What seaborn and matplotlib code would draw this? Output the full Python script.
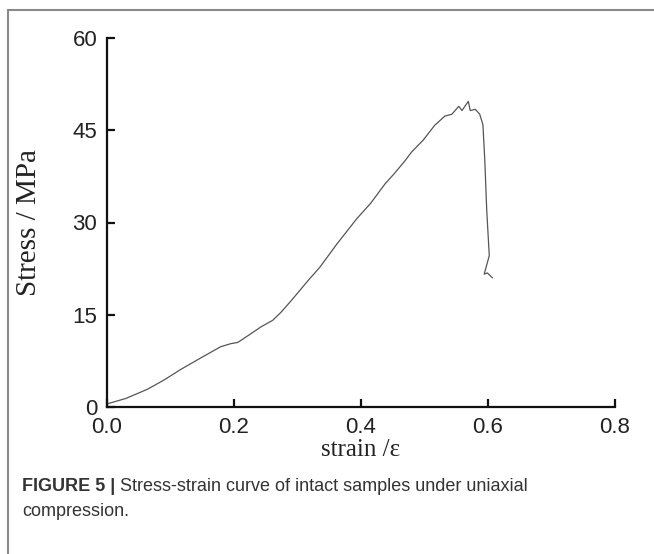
import matplotlib
matplotlib.use("Agg")
import matplotlib.pyplot as plt
import seaborn as sns
import pandas as pd
from matplotlib.lines import Line2D

strain = [0.0, 0.03, 0.064, 0.09, 0.116, 0.148, 0.179, 0.195, 0.206, 0.225, 0.242,
          0.261, 0.274, 0.291, 0.317, 0.335, 0.362, 0.394, 0.415, 0.438, 0.452,
          0.469, 0.48, 0.498, 0.516, 0.532, 0.543, 0.554, 0.559, 0.569, 0.572,
          0.58, 0.587, 0.592, 0.595, 0.598, 0.602, 0.594, 0.599, 0.607]
stress = [0.5, 1.4, 2.9, 4.4, 6.1, 8.0, 9.8, 10.3, 10.5, 11.8, 13.0,
          14.1, 15.4, 17.4, 20.6, 22.7, 26.5, 30.7, 33.1, 36.3, 37.9,
          40.0, 41.5, 43.4, 45.8, 47.3, 47.6, 48.9, 48.2, 49.7, 48.2,
          48.4, 47.6, 45.9, 40.0, 32.0, 24.6, 21.6, 21.8, 21.0]
x_ticks = [0.0, 0.2, 0.4, 0.6, 0.8]
y_ticks = [0, 15, 30, 45, 60]
x_label = "strain /ε"
y_label = "Stress / MPa"
caption_bold = "FIGURE 5 |"
caption_rest = " Stress-strain curve of intact samples under uniaxial"
caption_line2 = "compression."

sns.set_theme(style="ticks")
plt.rcParams['font.family'] = ['Liberation Sans', 'DejaVu Sans']

df = pd.DataFrame({"strain": strain, "stress": stress})

fig = plt.figure(figsize=(6.54, 5.54), dpi=100)
ax = fig.add_axes([107/654, 1-407/554, (615-107)/654, (407-38)/554])

sns.lineplot(data=df, x="strain", y="stress", sort=False, estimator=None,
             color="#555555", linewidth=0.9, ax=ax)

ax.set_xlim(0, 0.8)
ax.set_ylim(0, 60)
ax.set_xticks(x_ticks)
ax.set_xticklabels([f"{t:.1f}" for t in x_ticks])
ax.set_yticks(y_ticks)
ax.set_yticklabels([str(t) for t in y_ticks])
for s in ["top", "right"]:
    ax.spines[s].set_visible(False)
for s in ["left", "bottom"]:
    ax.spines[s].set_linewidth(1.6)
    ax.spines[s].set_color("#111111")
ax.tick_params(axis="both", direction="in", length=6, width=1.6, color="#111111",
               labelsize=16, labelcolor="#222222")
ax.tick_params(axis="x", pad=7)
ax.tick_params(axis="y", pad=7)
ax.set_xlabel(x_label, fontsize=18, family=["Liberation Serif", "DejaVu Serif"],
              color="#222222", labelpad=1)
ax.set_ylabel(y_label, fontsize=21, family=["Liberation Serif", "DejaVu Serif"],
              color="#222222", labelpad=22)
ax.patch.set_alpha(0)

# caption box frame
fig.add_artist(Line2D([8/654, 8/654], [0, 1-10/554], transform=fig.transFigure,
                      color="#8a8a8a", linewidth=1.5))
fig.add_artist(Line2D([8/654, 1], [1-10/554, 1-10/554], transform=fig.transFigure,
                      color="#8a8a8a", linewidth=1.5))

fs_cap = 13
t1 = fig.text(22/654, 1-491/554, caption_bold, fontsize=fs_cap, fontweight="bold",
              color="#333333", va="baseline")
fig.canvas.draw()
bb = t1.get_window_extent()
fig.text(bb.x1/654, 1-491/554, caption_rest, fontsize=fs_cap, color="#333333", va="baseline")
fig.text(22/654, 1-516/554, caption_line2, fontsize=fs_cap, color="#333333", va="baseline")

fig.savefig("out.png", dpi=100)
